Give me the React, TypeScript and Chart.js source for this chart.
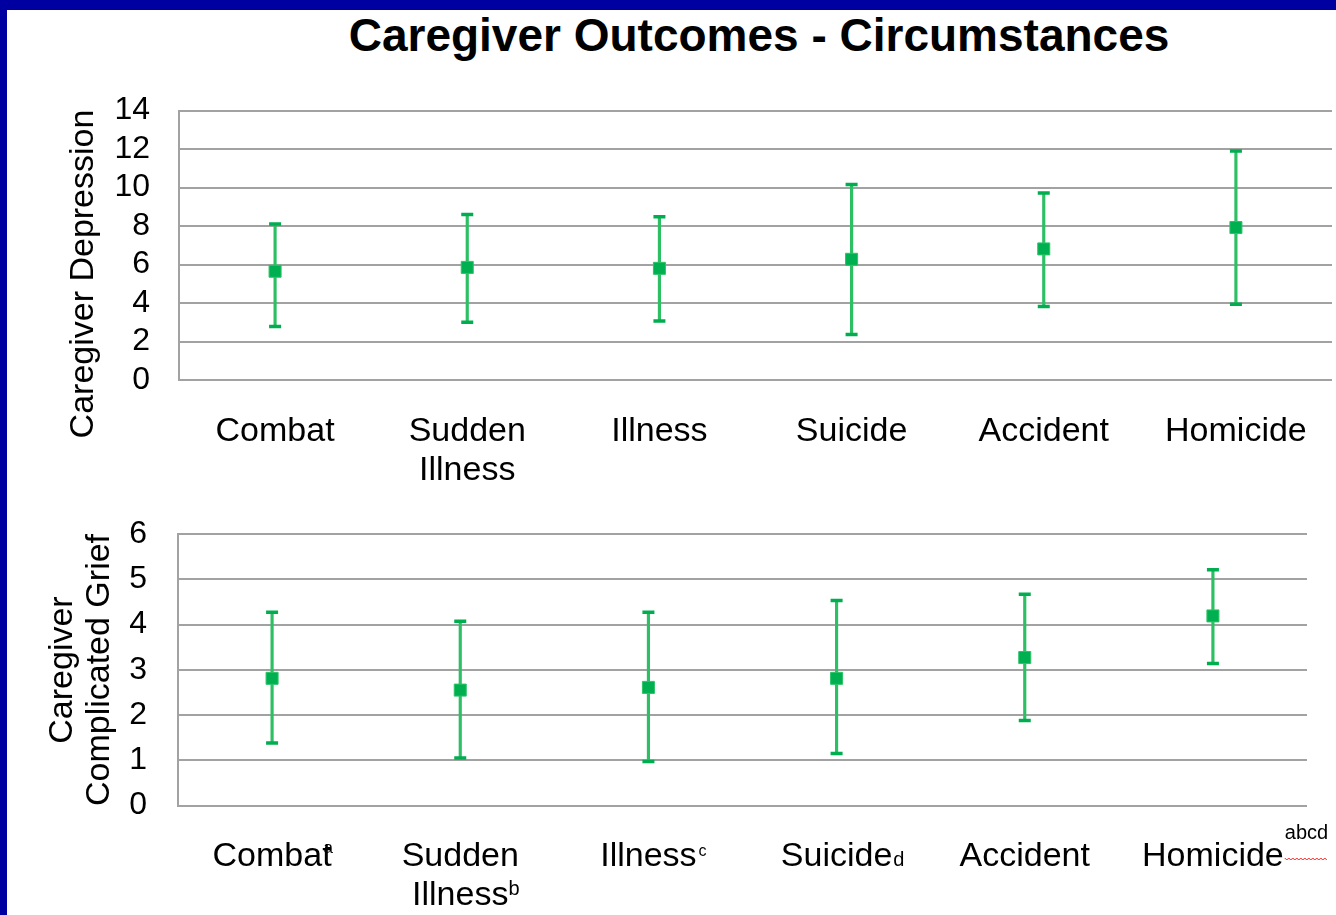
import React, { useEffect, useRef } from 'react';
import { Chart, registerables } from 'chart.js';

Chart.register(...registerables);

const FONT = '"Liberation Sans", Arial, Helvetica, sans-serif';

// ---------- text ----------
const chartTitle = 'Caregiver Outcomes - Circumstances';
const circumstances = ['Combat', 'Sudden Illness', 'Illness', 'Suicide', 'Accident', 'Homicide'];
const topLabelLines = [['Combat'], ['Sudden', 'Illness'], ['Illness'], ['Suicide'], ['Accident'], ['Homicide']];
const bottomLabelLines = [['Combat'], ['Sudden', 'Illness'], ['Illness'], ['Suicide'], ['Accident'], ['Homicide']];
const topMarks = ['', '', '', '', '', ''];
const bottomMarks = ['a', 'b', 'c', 'd', '', 'abcd'];
const depressionAxisTitle = ['Caregiver Depression'];
const griefAxisTitle = ['Caregiver', 'Complicated Grief'];

// ---------- data: caregiver depression ----------
const depressionMean = [5.65, 5.85, 5.8, 6.27, 6.81, 7.92];
const depressionUpper = [8.1, 8.6, 8.48, 10.15, 9.71, 11.89];
const depressionLower = [2.78, 3.0, 3.06, 2.37, 3.82, 3.94];
const depressionTickMin = 0;
const depressionTickMax = 14;
const depressionTickStep = 2;

// ---------- data: caregiver complicated grief ----------
const griefMean = [2.81, 2.55, 2.61, 2.81, 3.27, 4.19];
const griefUpper = [4.27, 4.07, 4.27, 4.53, 4.67, 5.21];
const griefLower = [1.38, 1.05, 0.97, 1.15, 1.88, 3.14];
const griefTickMin = 0;
const griefTickMax = 6;
const griefTickStep = 1;

// ---------- styles ----------
const BLUE = '#0000a0';
const GRID = '#a2a2a2';
const WHISKER = '#2cbf63';
const MEAN = '#00b050';
const CAP = '#00ad4f';

type MarkStyle = { dx: number; dy: number; size: number; wavy?: boolean };
const topMarkStyles: MarkStyle[] = [
  { dx: 0, dy: 0, size: 17 },
  { dx: 0, dy: 0, size: 17 },
  { dx: 0, dy: 0, size: 17 },
  { dx: 0, dy: 0, size: 17 },
  { dx: 0, dy: 0, size: 17 },
  { dx: 0, dy: 0, size: 17 },
];
const bottomMarkStyles: MarkStyle[] = [
  { dx: -8, dy: -13, size: 17 },
  { dx: 0, dy: -10, size: 20 },
  { dx: 2, dy: -10, size: 16 },
  { dx: 1, dy: 0, size: 20 },
  { dx: 0, dy: 0, size: 17 },
  { dx: 1, dy: -27, size: 20, wavy: true },
];

function makeLabelPlugin(
  lines: string[][],
  marks: string[],
  styles: MarkStyle[],
  baseY: number,
  lineGap: number,
) {
  return {
    id: 'categoryLabels',
    afterDraw(chart: any) {
      const ctx = chart.ctx as CanvasRenderingContext2D;
      const xs = chart.scales.x;
      ctx.save();
      ctx.fillStyle = '#000';
      ctx.textBaseline = 'alphabetic';
      lines.forEach((ls, i) => {
        const x = xs.getPixelForValue(i);
        ctx.font = `34px ${FONT}`;
        ctx.textAlign = 'center';
        ls.forEach((t, j) => ctx.fillText(t, x, baseY + j * lineGap));
        const mark = marks[i];
        if (!mark) return;
        const last = ls[ls.length - 1];
        const w = ctx.measureText(last).width;
        const st = styles[i];
        const mx = x + w / 2 + st.dx;
        const lastBase = baseY + (ls.length - 1) * lineGap;
        ctx.font = `${st.size}px ${FONT}`;
        ctx.textAlign = 'left';
        ctx.fillText(mark, mx, lastBase + st.dy);
        if (st.wavy) {
          const mw = ctx.measureText(mark).width;
          ctx.strokeStyle = '#ff2020';
          ctx.lineWidth = 1;
          ctx.beginPath();
          const wy = lastBase - 8;
          for (let k = 0; k <= mw; k += 2) {
            const yy = wy + ((k / 2) % 2 === 0 ? 0 : 2);
            if (k === 0) ctx.moveTo(mx + k, yy);
            else ctx.lineTo(mx + k, yy);
          }
          ctx.stroke();
        }
      });
      ctx.restore();
    },
  };
}

type Cfg = {
  mean: number[];
  upper: number[];
  lower: number[];
  min: number;
  max: number;
  step: number;
  yWidth: number;
  yPad: number;
  xHeight: number;
  padTop: number;
  padRight: number;
  plugin: any;
};

function buildConfig(c: Cfg): any {
  return {
    type: 'bar',
    data: {
      labels: circumstances,
      datasets: [
        {
          type: 'line',
          data: c.mean,
          showLine: false,
          pointStyle: 'rect',
          pointRadius: 8.5,
          pointBackgroundColor: MEAN,
          pointBorderColor: '#2cc467',
          pointBorderWidth: 1,
          order: 0,
        },
        {
          type: 'line',
          data: c.upper,
          showLine: false,
          pointStyle: 'line',
          pointRadius: 6,
          pointBorderColor: CAP,
          pointBorderWidth: 3.5,
          order: 1,
        },
        {
          type: 'line',
          data: c.lower,
          showLine: false,
          pointStyle: 'line',
          pointRadius: 6,
          pointBorderColor: CAP,
          pointBorderWidth: 3.5,
          order: 1,
        },
        {
          type: 'bar',
          data: c.lower.map((lo, i) => [lo, c.upper[i]]),
          backgroundColor: WHISKER,
          borderWidth: 0,
          barThickness: 2.5,
          order: 2,
        },
      ],
    },
    options: {
      animation: false,
      responsive: false,
      devicePixelRatio: 1,
      events: [],
      layout: { autoPadding: false, padding: { top: c.padTop, right: c.padRight, left: 0, bottom: 0 } },
      plugins: { legend: { display: false }, tooltip: { enabled: false }, title: { display: false } },
      scales: {
        x: {
          offset: true,
          grid: { display: false },
          border: { display: false },
          ticks: { display: false },
          afterFit: (s: any) => {
            s.height = c.xHeight;
            s.paddingLeft = 0;
            s.paddingRight = 0;
          },
        },
        y: {
          min: c.min,
          max: c.max,
          grid: { color: GRID, lineWidth: 2, drawTicks: false },
          border: { display: true, color: GRID, width: 2 },
          ticks: {
            stepSize: c.step,
            autoSkip: false,
            padding: c.yPad,
            color: '#000',
            font: { family: FONT, size: 32 },
          },
          afterFit: (s: any) => {
            s.width = c.yWidth;
            s.paddingTop = 0;
            s.paddingBottom = 0;
          },
        },
      },
    },
    plugins: [c.plugin],
  };
}

export default function App() {
  const topRef = useRef<HTMLCanvasElement>(null);
  const botRef = useRef<HTMLCanvasElement>(null);

  useEffect(() => {
    const top = new Chart(
      topRef.current as HTMLCanvasElement,
      buildConfig({
        mean: depressionMean,
        upper: depressionUpper,
        lower: depressionLower,
        min: depressionTickMin,
        max: depressionTickMax,
        step: depressionTickStep,
        yWidth: 179,
        yPad: 29,
        xHeight: 120,
        padTop: 40.5,
        padRight: 4,
        plugin: makeLabelPlugin(topLabelLines, topMarks, topMarkStyles, 371, 39),
      }),
    );
    const bot = new Chart(
      botRef.current as HTMLCanvasElement,
      buildConfig({
        mean: griefMean,
        upper: griefUpper,
        lower: griefLower,
        min: griefTickMin,
        max: griefTickMax,
        step: griefTickStep,
        yWidth: 178,
        yPad: 31,
        xHeight: 109.5,
        padTop: 34,
        padRight: 29,
        plugin: makeLabelPlugin(bottomLabelLines, bottomMarks, bottomMarkStyles, 366, 39),
      }),
    );
    return () => {
      top.destroy();
      bot.destroy();
    };
  }, []);

  return (
    <div
      style={{
        position: 'fixed',
        left: 0,
        top: 0,
        width: 1336,
        height: 915,
        background: '#fff',
        overflow: 'hidden',
        fontFamily: FONT,
        color: '#000',
      }}
    >
      <div
        style={{
          position: 'absolute',
          left: 159,
          top: 12,
          width: 1200,
          textAlign: 'center',
          fontSize: 46,
          lineHeight: '46px',
          fontWeight: 'bold',
          whiteSpace: 'nowrap',
        }}
      >
        {chartTitle}
      </div>
      <canvas ref={topRef} width={1336} height={430} style={{ position: 'absolute', left: 0, top: 70 }} />
      <canvas ref={botRef} width={1336} height={415} style={{ position: 'absolute', left: 0, top: 500 }} />
      <div
        style={{
          position: 'absolute',
          left: 81 - 210,
          top: 273.5 - 17,
          width: 420,
          height: 34,
          fontSize: 34,
          lineHeight: '34px',
          textAlign: 'center',
          whiteSpace: 'nowrap',
          transform: 'rotate(-90deg)',
        }}
      >
        {depressionAxisTitle.map((t, i) => (
          <div key={i}>{t}</div>
        ))}
      </div>
      <div
        style={{
          position: 'absolute',
          left: 79 - 210,
          top: 670 - 37,
          width: 420,
          height: 74,
          fontSize: 34,
          lineHeight: '37px',
          textAlign: 'center',
          whiteSpace: 'nowrap',
          transform: 'rotate(-90deg)',
        }}
      >
        {griefAxisTitle.map((t, i) => (
          <div key={i}>{t}</div>
        ))}
      </div>
      <div style={{ position: 'absolute', left: 0, top: 0, width: 1336, height: 10, background: BLUE }} />
      <div style={{ position: 'absolute', left: 0, top: 0, width: 7, height: 915, background: BLUE }} />
    </div>
  );
}
